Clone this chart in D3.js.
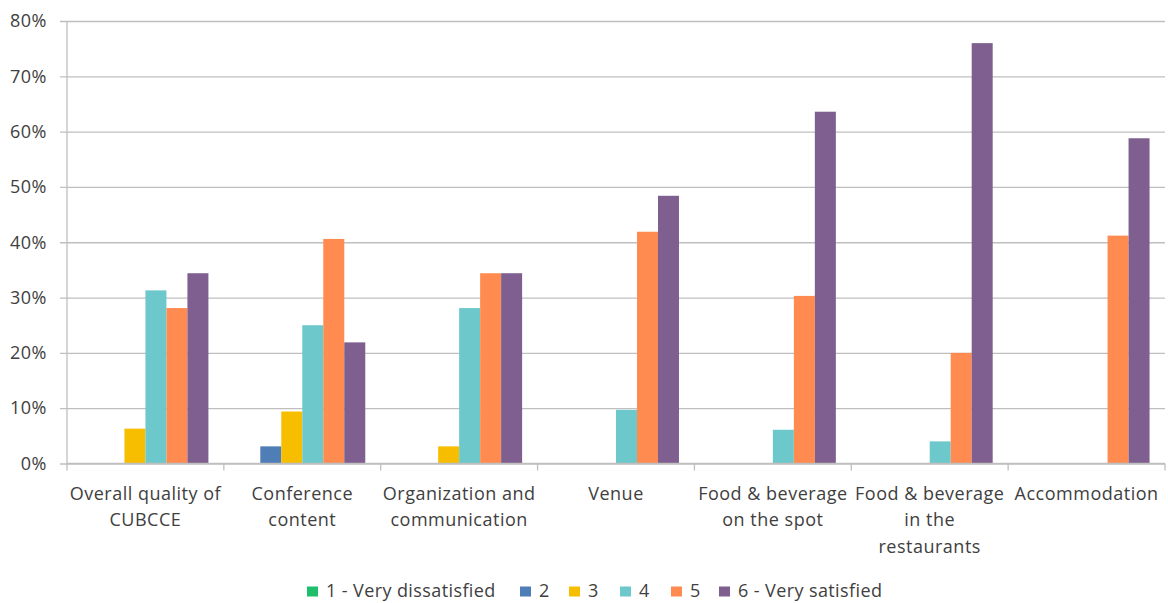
<!DOCTYPE html>
<html>
<head>
<meta charset="utf-8">
<script src="https://cdn.jsdelivr.net/npm/d3@7"></script>
<style>
  html, body { margin: 0; padding: 0; background: #ffffff; }
  svg { display: block; }
  text { font-family: "Open Sans", "Liberation Sans", sans-serif; fill: #404040; }
</style>
</head>
<body>
<svg id="chart" width="1168" height="603"></svg>
<script>
// ---- data ----
const categories = [
  "Overall quality of|CUBCCE",
  "Conference|content",
  "Organization and|communication",
  "Venue",
  "Food & beverage|on the spot",
  "Food & beverage|in the|restaurants",
  "Accommodation"
];
const seriesNames = ["1 - Very dissatisfied", "2", "3", "4", "5", "6 - Very satisfied"];
const s1 = [0, 0, 0, 0, 0, 0, 0];
const s2 = [0, 3.1, 0, 0, 0, 0, 0];
const s3 = [6.3, 9.4, 3.1, 0, 0, 0, 0];
const s4 = [31.3, 25.0, 28.1, 9.7, 6.1, 4.0, 0];
const s5 = [28.1, 40.6, 34.4, 41.9, 30.3, 20.0, 41.2];
const s6 = [34.4, 21.9, 34.4, 48.4, 63.6, 76.0, 58.8];
const seriesValues = [s1, s2, s3, s4, s5, s6];
const seriesColors = ["#1DBF6A", "#4F7DB5", "#F7BE00", "#6DC8CB", "#FF8B50", "#7E5F8F"];
const yTicks = [0, 10, 20, 30, 40, 50, 60, 70, 80];

// ---- layout ----
const svg = d3.select("#chart");
const pLeft = 67, pRight = 1165, pTop = 21, pBottom = 463.5;

const x0 = d3.scaleBand().domain(d3.range(categories.length))
  .range([pLeft, pRight]).paddingInner(0.197).paddingOuter(0.0985);
const x1 = d3.scaleBand().domain(d3.range(seriesNames.length))
  .range([0, x0.bandwidth()]);
const y = d3.scaleLinear().domain([0, 80]).range([pBottom, pTop]);

// gridlines + y axis
const yAxis = d3.axisLeft(y).tickValues(yTicks).tickFormat(d => d + "%")
  .tickSize(-(pRight - pLeft)).tickPadding(20);
const gy = svg.append("g").attr("transform", `translate(${pLeft},0)`).call(yAxis);
gy.select(".domain").remove();
gy.selectAll(".tick line").attr("stroke", "#BFBFBF").attr("stroke-width", 1.3)
  .attr("x1", -7);
gy.selectAll(".tick text").attr("font-size", 18).attr("fill", "#404040")
  .attr("letter-spacing", 0.5)
  .style("font-family", '"Open Sans", sans-serif');

// vertical axis line
svg.append("line").attr("x1", pLeft).attr("x2", pLeft).attr("y1", pTop).attr("y2", pBottom)
  .attr("stroke", "#BFBFBF").attr("stroke-width", 1.3);

// category boundary ticks
const bounds = d3.range(categories.length + 1).map(i => pLeft + i * x0.step());
svg.append("g").selectAll("line").data(bounds).join("line")
  .attr("x1", d => d).attr("x2", d => d)
  .attr("y1", pBottom).attr("y2", pBottom + 7)
  .attr("stroke", "#BFBFBF").attr("stroke-width", 1.3);

// bars
const groups = svg.append("g").selectAll("g").data(categories).join("g")
  .attr("transform", (d, i) => `translate(${x0(i)},0)`);
groups.selectAll("rect")
  .data((d, i) => seriesValues.map((s, j) => ({ j, v: s[i] })))
  .join("rect")
  .attr("x", d => x1(d.j))
  .attr("width", x1.bandwidth())
  .attr("y", d => y(d.v))
  .attr("height", d => y(0) - y(d.v))
  .attr("fill", d => seriesColors[d.j]);

// bottom axis line on top
svg.append("line").attr("x1", pLeft).attr("x2", pRight).attr("y1", pBottom).attr("y2", pBottom)
  .attr("stroke", "#BFBFBF").attr("stroke-width", 1.3);

// category labels
const labels = svg.append("g").selectAll("text").data(categories).join("text")
  .attr("text-anchor", "middle")
  .attr("font-size", 18)
  .attr("letter-spacing", 0.5)
  .attr("x", (d, i) => x0(i) + x0.bandwidth() / 2)
  .attr("y", 500);
labels.selectAll("tspan").data(d => d.split("|")).join("tspan")
  .attr("x", function () { return d3.select(this.parentNode).attr("x"); })
  .attr("dy", (d, i) => i === 0 ? 0 : 26.3)
  .text(d => d);

// legend
const legendX = [307, 520, 569, 620, 671, 719];
const lg = svg.append("g").selectAll("g").data(seriesNames).join("g")
  .attr("transform", (d, i) => `translate(${legendX[i]},0)`);
lg.append("rect").attr("x", 0).attr("y", 586.5).attr("width", 11).attr("height", 10)
  .attr("fill", (d, i) => seriesColors[i]);
lg.append("text").attr("x", 19).attr("y", 597).attr("font-size", 18)
  .attr("letter-spacing", 0.4).text(d => d);
</script>
</body>
</html>
